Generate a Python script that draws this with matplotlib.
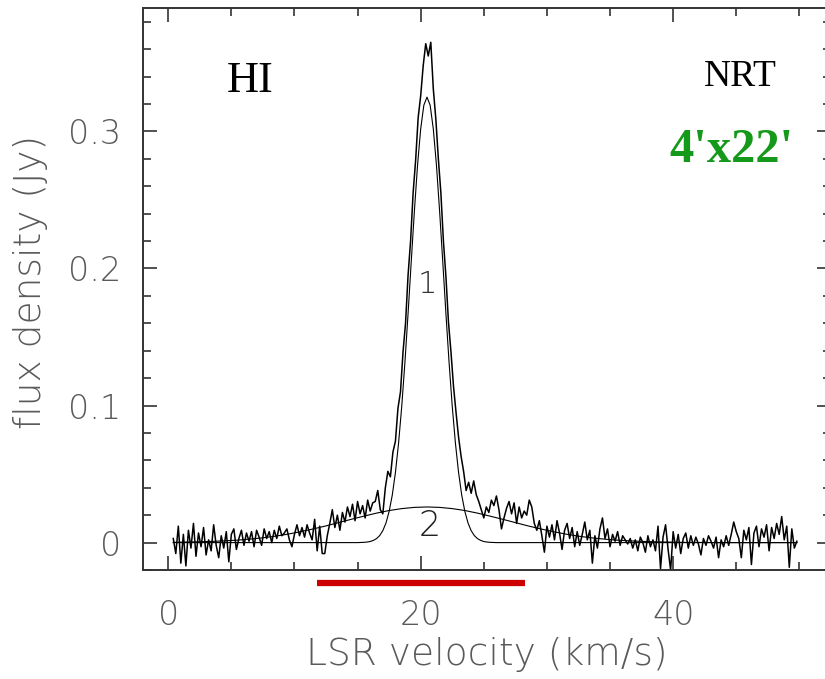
import numpy as np
import matplotlib
matplotlib.use("Agg")
import matplotlib.pyplot as plt
import matplotlib.transforms as mtransforms
from matplotlib.ticker import MultipleLocator

# observed HI spectrum, channels every 0.2 km/s from 0.4 to 49.8 km/s (mJy)
vel_start, vel_step = 0.4, 0.2
flux_mjy = [
    3, -8, 12, -15, 6, -17, 9, -4, 14, -10,        # 0.4 - 2.2
    7, -3, 11, -9, 2, -6, 13, -2, -11, 5,          # 2.4 - 4.2
    -4, 8, -14, 6, 10, -5, 3, 9, -2, 7,            # 4.4 - 6.2
    1, 8, -3, 9, 4, -2, 10, 3, 8, 0,               # 6.4 - 8.2
    9, 3, 12, 5, 7, 10, 2, -3, 6, 13,              # 8.4 - 10.2
    5, 11, 4, 13, 7, 2, 17, -6, 12, -8,            # 10.4 - 12.2
    -8, 5, 14, 24, 11, 20, 9, 22, 15, 26,          # 12.4 - 14.2
    19, 28, 16, 30, 21, 27, 18, 31, 23, 29,        # 14.4 - 16.2
    30, 38, 24, 21, 40, 52, 48, 66, 74, 98,        # 16.4 - 18.2
    110, 139, 160, 195, 220, 255, 279, 310, 326, 348,  # 18.4 - 20.2
    364, 355, 365, 331, 309, 280, 255, 220, 194, 161,  # 20.4 - 22.2
    139, 114, 95, 77, 63, 52, 38, 44, 36, 45,      # 22.4 - 24.2
    35, 30, 24, 18, 26, 22, 31, 27, 34, 24,        # 24.4 - 26.2
    10, 18, 25, 30, 21, 29, 14, 26, 18, 23,        # 26.4 - 28.2
    20, 31, 26, 14, 9, 16, 5, -7, 12, 4,           # 28.4 - 30.2
    13, 2, 16, 7, -5, 9, 14, 3, 11, -3,            # 30.4 - 32.2
    8, -2, 6, 15, 2, 9, -15, 5, -4, 10,            # 32.4 - 34.2
    18, 3, 10, -3, 6, 1, 8, -2, 5, 2,              # 34.4 - 36.2
    -1, 3, -4, 2, -6, 4, 0, -7, 5, -3,             # 36.4 - 38.2
    2, -6, 12, -19, 4, 13, -5, -20, 8, -4,         # 38.4 - 40.2
    6, -8, 3, 7, -4, 5, -2, 4, -1, -9,             # 40.4 - 42.2
    3, -2, 5, 1, -4, 4, -11, 2, -3, 5,             # 42.4 - 44.2
    -2, 6, 15, 8, 3, -11, 9, 2, 11, -16,           # 44.4 - 46.2
    7, 12, -3, 10, 4, 13, -6, 11, 3, 14,           # 46.4 - 48.2
    6, 19, 2, 12, -18, 10, -4, 1,                  # 48.4 - 49.8
]

# fitted component 1 (narrow), sampled every 0.25 km/s from 15.0 to 26.0 (mJy)
fit1_half = [0.0, 0.1, 0.2, 0.4, 0.8, 1.6, 2.9, 5.1, 8.7, 14.3, 22.7, 34.7,
             51.2, 72.7, 99.5, 131.3, 167.0, 204.7, 241.7, 275.2, 301.8, 319.1]
fit1_mjy = fit1_half + [325.0] + fit1_half[::-1]

# fitted component 2 (broad), sampled every 1 km/s from 0.5 to 49.5 (mJy)
fit2_mjy = [0.2, 0.4, 0.6, 0.9, 1.3, 1.8, 2.6, 3.5, 4.7, 6.2,
            8.0, 10.0, 12.2, 14.6, 17.0, 19.3, 21.5, 23.4, 24.8, 25.7,
            26.0, 25.7, 24.8, 23.4, 21.5, 19.3, 17.0, 14.6, 12.2, 10.0,
            8.0, 6.2, 4.7, 3.5, 2.6, 1.8, 1.3, 0.9, 0.6, 0.4,
            0.2, 0.1, 0.1, 0.0, 0.0, 0.0, 0.0, 0.0, 0.0, 0.0]

# velocity range marked in red under the axis (km/s)
red_range = [11.8, 28.3]

vel = vel_start + vel_step * np.arange(len(flux_mjy))
flux = np.array(flux_mjy) / 1000.0

v1 = np.concatenate([[vel[0]], 15.0 + 0.25 * np.arange(len(fit1_mjy)), [vel[-1]]])
f1 = np.concatenate([[0.0], np.array(fit1_mjy) / 1000.0, [0.0]])
v2 = np.concatenate([[vel[0]], 0.5 + 1.0 * np.arange(len(fit2_mjy)), [vel[-1]]])
f2 = np.concatenate([[fit2_mjy[0] / 1000.0], np.array(fit2_mjy) / 1000.0, [0.0]])

grey = "#5a5a5a"

fig = plt.figure(figsize=(8.25, 6.79), dpi=100)
ax = fig.add_axes([0.1733, 0.1605, 0.8339, 0.8277])

ax.plot(vel, flux, color="black", lw=1.1)
ax.plot(v1, f1, color="black", lw=0.8)
ax.plot(v2, f2, color="black", lw=0.8)

ax.set_xlim(-2, 52.5)
ax.set_ylim(-0.02, 0.39)

ax.xaxis.set_minor_locator(MultipleLocator(5))
ax.yaxis.set_minor_locator(MultipleLocator(0.02))
ax.set_xticks([0, 20, 40])
ax.set_xticklabels(["0", "20", "40"])
ax.set_yticks([0, 0.1, 0.2, 0.3])
ax.set_yticklabels(["0", "0.1", "0.2", "0.3"])

ax.tick_params(which="both", direction="in", top=True, right=True,
               color="#222222", width=1.1)
ax.tick_params(which="major", length=10)
ax.tick_params(which="minor", length=6)
ax.tick_params(axis="x", which="major", pad=21)
ax.tick_params(axis="y", which="major", pad=16)
for lab in ax.get_xticklabels() + ax.get_yticklabels():
    lab.set_fontsize(24)
    lab.set_color(grey)
    lab.set_fontweight("light")

for sp in ax.spines.values():
    sp.set_linewidth(1.4)
    sp.set_color("#333333")

ax.set_xlabel("LSR velocity (km/s)", fontsize=27, color=grey, fontweight="light",
              va="center")
ax.set_ylabel("flux density (Jy)", fontsize=27, color=grey, fontweight="light",
              va="center")
ax.xaxis.set_label_coords(0.5, -0.151)
ax.yaxis.set_label_coords(-0.163, 0.512)

# component labels
ax.text(20.5, 0.188, "1", fontsize=22, color="#333333", ha="center", va="center",
        fontweight="light")
ax.text(20.75, 0.0124, "2", fontsize=25, color="#222222", ha="center", va="center",
        fontweight="light")

ax.text(4.6, 0.3285, "HI", family="Liberation Serif", fontsize=32, color="black",
        ha="left", va="baseline")
ax.text(42.4, 0.333, "NRT", family="Liberation Serif", fontsize=27, color="black",
        ha="left", va="baseline")
ax.text(39.7, 0.2774, "4'x22'", family="Liberation Serif", fontsize=35,
        fontweight="bold", color="#15991a", ha="left", va="baseline")

# red bar below the axis
trans = mtransforms.blended_transform_factory(ax.transData, ax.transAxes)
ax.plot(red_range, [-0.023, -0.023], color="#cc0000", lw=4.5, transform=trans,
        clip_on=False, solid_capstyle="butt")

fig.savefig("out.png", dpi=100)
